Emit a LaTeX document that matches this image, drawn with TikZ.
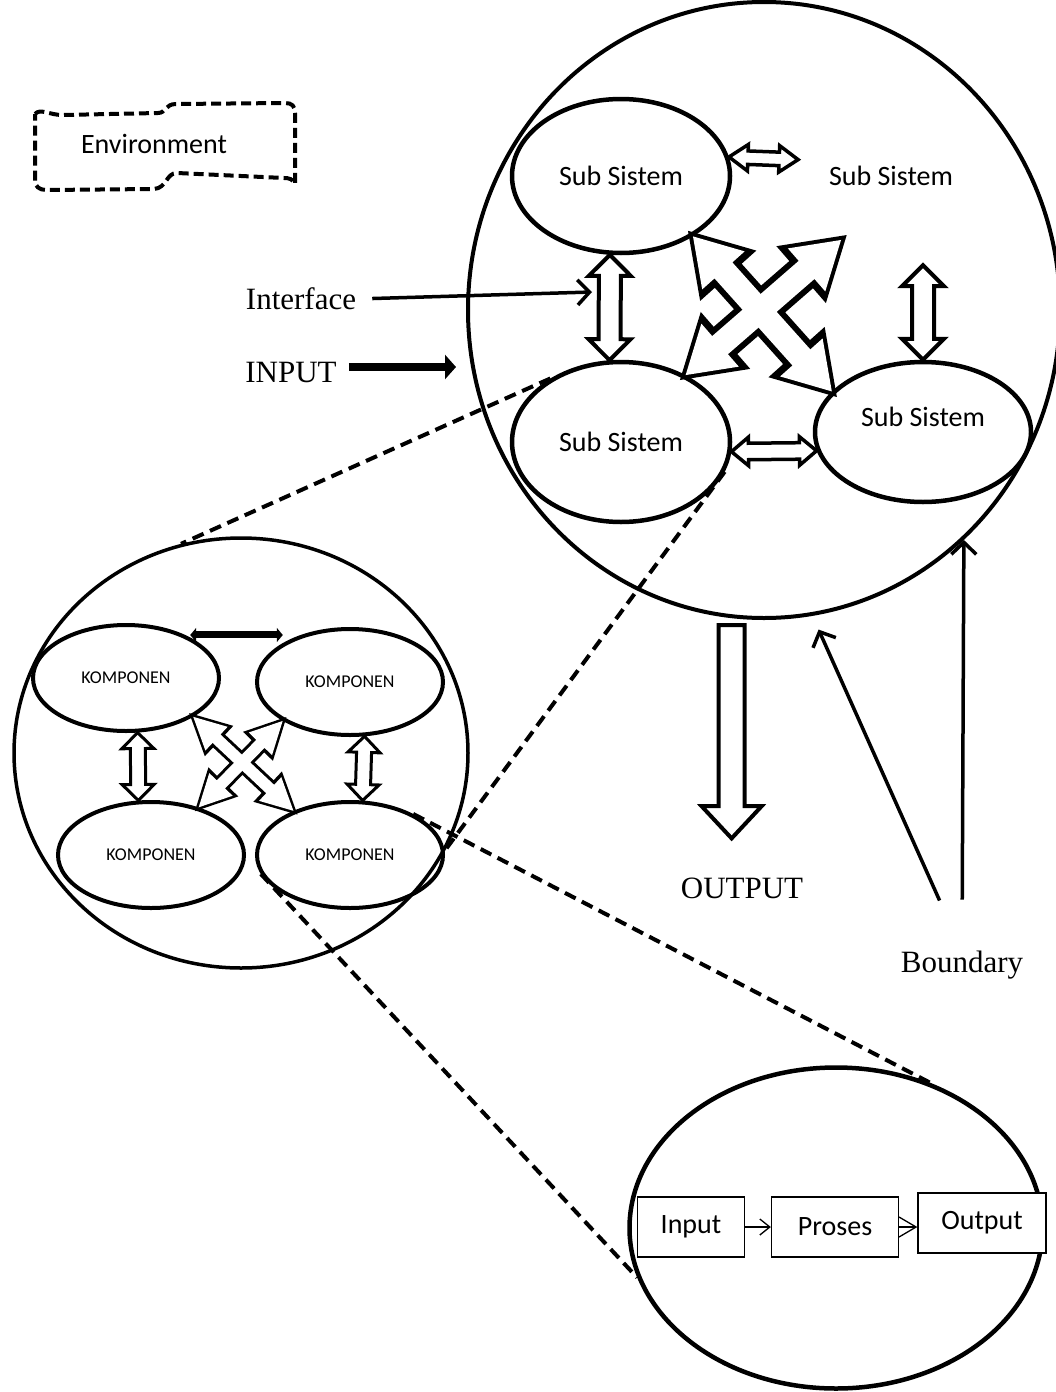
\documentclass[tikz,border=0pt]{standalone}
\usepackage{fontspec}
\setmainfont{Carlito}
\newfontfamily\tnr{Liberation Serif}
\usetikzlibrary{arrows.meta,shapes.geometric,shapes.arrows,calc}
\newcommand{\blockarr}[3]{\path let \p1=($#3-#2$), \n1={veclen(\x1,\y1)} in #2 -- node[sloped,allow upside down,#1,minimum height=\n1]{} #3;}

\begin{document}
\begin{tikzpicture}[x=1pt,y=-1pt,
    every node/.style={inner sep=0pt},
    subsys/.style={ellipse,font=\fontsize{28}{30}\selectfont},
    outline/.style={draw,line width=4.5pt},
    komp/.style={ellipse,draw,line width=4pt,minimum width=186pt,minimum height=106pt,font=\fontsize{18}{20}\selectfont},
    bigring/.style={ellipse,draw,line width=#1},
    lbl/.style={font=\tnr\fontsize{31}{33}\selectfont},
    box/.style={draw,fill=white,line width=1.3pt,minimum height=60pt,font=\fontsize{28}{30}\selectfont},
    dbl/.style={double arrow,draw,fill=white,line width=4pt},
    bigx/.style={dbl,inner ysep=10pt,double arrow head extend=16.5pt,double arrow tip angle=64},
    smallx/.style={dbl,inner ysep=3.75pt,double arrow head extend=10.5pt,double arrow tip angle=54},
    envline/.style={line width=4pt,dash pattern=on 10pt off 5pt},
    zoomline/.style={line width=4pt,dash pattern=on 12pt off 7pt},
    pointer/.style={line width=3.5pt,-{Straight Barb[length=12pt,width=25pt]}}]

  \path[use as bounding box,fill=white] (0,0) rectangle (1056,1392);

  \draw[envline] (35,114) .. controls (40,108) and (50,115) .. (62,115) -- (158,113)
    .. controls (166,113) and (165,104) .. (176,104) -- (285,103)
    .. controls (292,103) and (295,106) .. (295,113) -- (295,184)
    .. controls (293,179) and (289,178) .. (284,178) -- (177,173)
    .. controls (166,173) and (167,188) .. (154,189) -- (46,190)
    .. controls (39,190) and (35,186) .. (35,181) -- cycle;
  \node (env) at (154,144) {\fontsize{28}{30}\selectfont Environment};

  \node[bigring=4pt,minimum width=592pt,minimum height=616pt] (bigc) at (764,310) {};
  \node[subsys,outline,minimum width=218pt,minimum height=154pt] (ss1) at (621,176) {Sub Sistem};
  \node[subsys,minimum width=190pt,minimum height=150pt] (ss2) at (891,176) {Sub Sistem};
  \node[subsys,outline,minimum width=218pt,minimum height=160pt] (ss3) at (621,442) {Sub Sistem};
  \node[subsys,outline,minimum width=216pt,minimum height=140pt,text depth=30pt] (ss4) at (923,432) {Sub Sistem};
  \coordinate (vtop) at ($(ss4.north |- ss2.south)+(0,14)$);

  \blockarr{dbl,line width=3.5pt,inner ysep=5pt,double arrow head extend=6.5pt,double arrow tip angle=70}{(ss1.10)}{(ss2.170)}
  \blockarr{dbl,inner ysep=9pt,double arrow head extend=10pt}{(ss1.262)}{(ss3.98)}
  \blockarr{dbl,inner ysep=9pt,double arrow head extend=10pt}{(vtop)}{(ss4.north)}
  \blockarr{dbl,line width=3.5pt,inner ysep=6.5pt,double arrow head extend=6pt,double arrow tip angle=80}{(ss3.355)}{(ss4.190)}
  \blockarr{bigx,fill=none,line width=8pt}{(ss1.320)}{(ss4.156)}
  \blockarr{bigx,fill=none,line width=8pt}{(ss2.232)}{(ss3.46)}
  \blockarr{bigx,draw=none}{(ss1.320)}{(ss4.156)}
  \blockarr{bigx,draw=none}{(ss2.232)}{(ss3.46)}

  \node[lbl] (intf) at (301,299) {Interface};
  \node[lbl] (inp) at (291,372) {INPUT};
  \node[lbl] (outp) at (742,888) {OUTPUT};
  \node[lbl] (bnd) at (962,965) {Boundary};
  \coordinate (ifc) at (592,292);
  \coordinate (inpt) at ([yshift=5pt]inp.east);
  \coordinate (oend) at ($(bigc.264 |- outp.north)+(0,-46)$);

  \draw[pointer,shorten <=16pt] (intf.east) -- (ifc);
  \draw[line width=8pt,-{Triangle[length=11pt,width=24pt]},shorten <=12pt,shorten >=10pt] (inpt) -- (inpt -| bigc.west);
  \blockarr{single arrow,draw,fill=white,line width=4pt,inner ysep=11pt,single arrow head extend=17pt,single arrow tip angle=86}{(bigc.264)}{(oend)}
  \draw[pointer,shorten <=55pt,shorten >=15pt] (bnd.north) -- (bigc.279);
  \draw[pointer,shorten <=51pt] (bnd.north) -- (bigc.311);

  \node[bigring=3.5pt,minimum width=454pt,minimum height=430pt] (kc) at (241,753) {};
  \node[komp] (k1) at (126,678) {KOMPONEN};
  \node[komp] (k2) at (350,682) {KOMPONEN};
  \node[komp] (k3) at (151,855) {KOMPONEN};
  \node[komp] (k4) at (350,855) {KOMPONEN};

  \draw[line width=7pt,{Triangle[length=6pt,width=14pt]}-{Triangle[length=6pt,width=14pt]},shorten <=5pt,shorten >=8pt] (k1.36) -- (k1.36 -| k2.144);
  \blockarr{dbl,line width=3pt,inner ysep=6pt,double arrow head extend=8.5pt}{(k1.282)}{(k3.103)}
  \blockarr{dbl,line width=3pt,inner ysep=6pt,double arrow head extend=8.5pt}{(k2.285)}{(k4.77)}
  \blockarr{smallx,fill=none,line width=5pt}{(k1.330)}{(k4.142)}
  \blockarr{smallx,fill=none,line width=5pt}{(k2.210)}{(k3.45)}
  \blockarr{smallx,draw=none}{(k1.330)}{(k4.142)}
  \blockarr{smallx,draw=none}{(k2.210)}{(k3.45)}

  \draw[zoomline] (ss3.138) -- (kc.106);
  \draw[zoomline] (ss3.344) -- (kc.335);

  \node[bigring=4.5pt,minimum width=413pt,minimum height=321pt] (bc) at (836,1228) {};
  \draw[zoomline] (k4.33) -- (bc.57);
  \draw[zoomline] (k4.192) -- (bc.194);

  \node[box,minimum width=107pt] (bin) at (691,1227) {Input};
  \node[box,minimum width=127pt] (bpr) at (835,1227) {Proses};
  \node[box,minimum width=128pt] (bout) at (982,1223) {Output};
  \draw[line width=1.3pt,-{Straight Barb[length=10pt,width=16pt]}] (bin) -- (bpr);
  \draw[line width=1.3pt,-{Straight Barb[length=17pt,width=20pt]}] (bpr.east) -- (bpr.east -| bout.west);

\end{tikzpicture}
\end{document}
